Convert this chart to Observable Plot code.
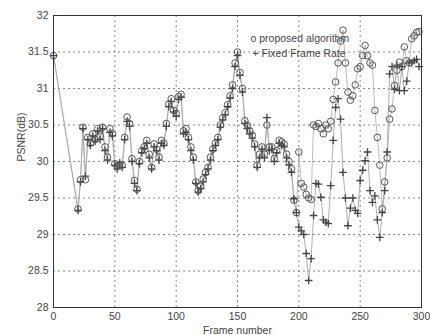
<!DOCTYPE html>
<html><head><meta charset="utf-8">
<script src="https://cdn.jsdelivr.net/npm/d3@7"></script>
<script src="https://cdn.jsdelivr.net/npm/@observablehq/plot@0.6"></script>
<style>body{margin:0;background:#fff;}</style>
</head><body><div id="chart"></div>
<script>
const frames = [0,
 20,22,24,26,28,30,32,34,36,38,
 40,42,44,46,48,50,52,54,56,58,
 60,62,64,66,68,70,72,74,76,78,
 80,82,84,86,88,90,92,94,96,98,
 100,102,104,106,108,110,112,114,116,118,
 120,122,124,126,128,130,132,134,136,138,
 140,142,144,146,148,150,152,154,156,158,
 160,162,164,166,168,170,172,174,176,178,
 180,182,184,186,188,190,192,194,196,198,
 200,202,204,206,208,210,212,214,216,218,
 220,222,224,226,228,230,232,234,236,238,
 240,242,244,246,248,250,252,254,256,258,
 260,262,264,266,268,270,272,274,276,278,
 280,282,284,286,288,290,292,294,296,298];

const proposedPSNR = [31.45,
 29.35, 29.75, 30.47, 29.75, 30.33, 30.25, 30.38, 30.30, 30.45, 30.35,
 30.47, 30.20, 30.06, 30.45, 30.38, 29.97, 29.93, 29.96, 29.95, 30.33,
 30.61, 30.52, 30.04, 29.74, 29.62, 30.00, 30.15, 30.20, 30.29, 30.10,
 29.92, 30.24, 30.17, 30.06, 30.29, 30.25, 30.52, 30.79, 30.86, 30.70,
 30.66, 30.89, 30.92, 30.42, 30.45, 30.33, 30.20, 30.06, 29.72, 29.60,
 29.66, 29.76, 29.85, 29.92, 30.06, 30.17, 30.25, 30.33, 30.50, 30.60,
 30.67, 30.78, 30.90, 31.05, 31.35, 31.50, 31.22, 31.00, 30.56, 30.50,
 30.42, 30.36, 30.24, 29.95, 30.10, 30.20, 30.10, 30.50, 30.20, 30.20,
 30.04, 30.15, 30.29, 30.27, 30.24, 30.10, 30.00, 29.90, 29.47, 29.30,
 30.13, 29.70, 29.65, 29.55, 29.50, 29.48, 30.50, 30.48, 30.52, 30.45,
 30.38, 30.50, 30.45, 30.55, 30.85, 31.09, 31.35, 31.65, 31.80, 31.35,
 30.95, 30.84, 30.90, 31.05, 31.27, 31.30, 31.45, 31.59, 31.45, 31.35,
 31.32, 30.70, 30.33, 29.95, 29.35, 29.72, 30.05, 30.58, 30.72, 31.04,
 31.25, 31.36, 31.30, 31.57, 31.38, 31.35, 31.68, 31.72, 31.77, 31.78];

const fixedPSNR = [31.45,
 29.33, 29.72, 30.45, 29.80, 30.30, 30.22, 30.35, 30.28, 30.42, 30.30,
 30.45, 30.15, 30.02, 30.40, 30.35, 29.95, 29.90, 29.98, 29.92, 30.30,
 30.55, 30.48, 30.00, 29.70, 29.60, 29.97, 30.12, 30.18, 30.25, 30.05,
 29.90, 30.20, 30.15, 30.02, 30.25, 30.22, 30.48, 30.75, 30.82, 30.68,
 30.62, 30.85, 30.88, 30.38, 30.40, 30.30, 30.15, 30.02, 29.70, 29.58,
 29.63, 29.72, 29.82, 29.90, 30.02, 30.15, 30.22, 30.30, 30.47, 30.57,
 30.64, 30.75, 30.87, 31.00, 31.30, 31.45, 31.18, 30.95, 30.52, 30.45,
 30.38, 30.32, 30.20, 29.92, 30.05, 30.17, 30.05, 30.60, 30.15, 30.17,
 30.00, 30.12, 30.25, 30.22, 30.20, 30.05, 29.95, 29.85, 29.49, 29.30,
 29.10, 29.05, 29.00, 28.74, 28.37, 28.67, 29.26, 29.70, 29.69, 29.51,
 29.20, 29.17, 29.15, 29.67, 30.29, 30.74, 30.86, 30.58, 29.85, 29.50,
 29.12, 29.36, 29.50, 29.33, 29.29, 29.74, 29.88, 30.01, 30.13, 29.60,
 29.44, 29.53, 29.20, 28.96, 29.30, 29.60, 30.13, 31.20, 31.30, 30.99,
 31.32, 30.97, 31.30, 30.97, 31.10, 31.36, 31.35, 31.38, 31.40, 31.30];

const xTicks = [0, 50, 100, 150, 200, 250, 300];
const yTicks = [28, 28.5, 29, 29.5, 30, 30.5, 31, 31.5, 32];
const xLabel = "Frame number";
const yLabel = "PSNR(dB)";
const legendLabels = ["o proposed algorithm", "+ Fixed Frame Rate"];

const proposed = frames.map((f, i) => ({frame: f, psnr: proposedPSNR[i]}));
const fixed = frames.map((f, i) => ({frame: f, psnr: fixedPSNR[i]}));

const gridStyle = {stroke: "#666", strokeOpacity: 1, strokeDasharray: "2,3", strokeWidth: 0.8};

const chart = Plot.plot({
  width: 430, height: 335,
  marginLeft: 53, marginRight: 9, marginTop: 15, marginBottom: 28,
  style: {fontFamily: "'Liberation Sans', Arial, sans-serif", fontSize: "10.5px", color: "#444", background: "#fff"},
  x: {domain: [0, 300]},
  y: {domain: [28, 32]},
  marks: [
    Plot.gridX(xTicks, gridStyle),
    Plot.gridY(yTicks, gridStyle),
    Plot.axisX(xTicks, {tickSize: 0, tickPadding: 5, label: null, tickFormat: d => String(d)}),
    Plot.axisY(yTicks, {tickSize: 0, tickPadding: 5, label: null, tickFormat: d => String(d)}),
    Plot.line(fixed, {x: "frame", y: "psnr", stroke: "#9a9a9a", strokeWidth: 0.8}),
    Plot.line(proposed, {x: "frame", y: "psnr", stroke: "#aaa", strokeWidth: 0.8}),
    Plot.dot(fixed, {x: "frame", y: "psnr", symbol: "plus", r: 2.6, stroke: "#444", strokeWidth: 1.3}),
    Plot.dot(proposed, {x: "frame", y: "psnr", symbol: "circle", r: 3.3, stroke: "#555", fill: "none", strokeWidth: 1}),
    Plot.frame({stroke: "#333"}),
    Plot.text([yLabel], {text: d => d, frameAnchor: "left", rotate: -90, dx: -32, fill: "#444", fontSize: 10.5}),
    Plot.text([xLabel], {text: d => d, frameAnchor: "bottom", lineAnchor: "middle", dy: 23, fill: "#444", fontSize: 10.5}),
    Plot.text([legendLabels[0]], {text: d => d, frameAnchor: "top-left", textAnchor: "start", lineAnchor: "middle", dx: 197, dy: 23, fill: "#444", fontSize: 10.5}),
    Plot.text([legendLabels[1]], {text: d => d, frameAnchor: "top-left", textAnchor: "start", lineAnchor: "middle", dx: 199, dy: 38, fill: "#444", fontSize: 10.5})
  ]
});
document.getElementById("chart").appendChild(chart);
</script>
</body></html>
